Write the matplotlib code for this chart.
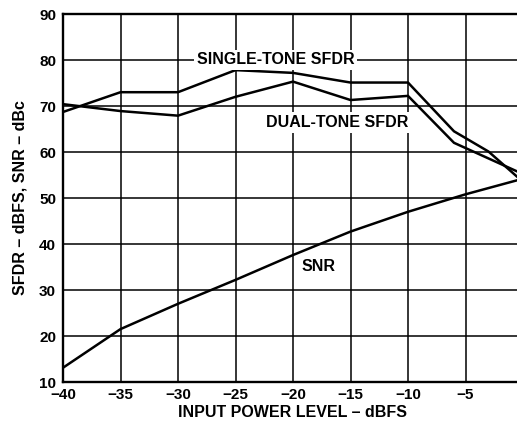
import matplotlib
matplotlib.use("Agg")
import matplotlib.pyplot as plt

# values
single_x = [-40, -35, -30, -25, -20, -15, -10, -6, -3, 0]
single_y = [68.7, 73.0, 73.0, 77.8, 77.2, 75.1, 75.1, 64.5, 60.1, 53.5]

dual_x = [-40, -35, -30, -25, -20, -15, -10, -6, 0]
dual_y = [70.4, 68.9, 67.9, 72.0, 75.3, 71.3, 72.2, 62.0, 55.2]

snr_x = [-40, -35, -30, -25, -20, -15, -10, -5, 0]
snr_y = [13.1, 21.5, 27.0, 32.2, 37.6, 42.7, 47.0, 50.8, 54.2]

x_ticks = [-40, -35, -30, -25, -20, -15, -10, -5, 0]
y_ticks = [10, 20, 30, 40, 50, 60, 70, 80, 90]

plt.rcParams["font.family"] = ["Liberation Sans", "DejaVu Sans"]
plt.rcParams["font.weight"] = "bold"

fig = plt.figure(figsize=(5.17, 4.23), dpi=100)
# the right edge of the plot runs slightly past the picture, as in the source
ax = fig.add_axes([63 / 517, 1 - 382 / 423, 460 / 517, 368 / 423])

for xs, ys in [(single_x, single_y), (dual_x, dual_y), (snr_x, snr_y)]:
    ax.plot(xs, ys, color="black", lw=1.8, solid_joinstyle="miter", zorder=3)

ax.set_xlim(-40, 0)
ax.set_ylim(10, 90)
ax.set_xticks(x_ticks)
ax.set_yticks(y_ticks)
ax.set_xticklabels([str(t).replace("-", "\u2212") for t in x_ticks])
ax.grid(True, color="black", lw=1.1)
ax.tick_params(length=0, labelsize=11)
ax.tick_params(axis="x", pad=4.5)
ax.tick_params(axis="y", pad=5)
for s in ax.spines.values():
    s.set_linewidth(1.7)

box = dict(facecolor="white", edgecolor="none", pad=2)
ax.text(-21.5, 80, "SINGLE-TONE SFDR", ha="center", va="center",
        fontsize=11.5, fontweight="bold", bbox=box, zorder=4)
ax.text(-16.2, 66.4, "DUAL-TONE SFDR", ha="center", va="center",
        fontsize=11.5, fontweight="bold", bbox=box, zorder=4)
ax.text(-17.8, 35.1, "SNR", ha="center", va="center",
        fontsize=11.5, fontweight="bold", zorder=4)

ax.set_xlabel("INPUT POWER LEVEL \u2013 dBFS", fontsize=11.5, fontweight="bold", labelpad=2)
ax.set_ylabel("SFDR \u2013 dBFS, SNR \u2013 dBc", fontsize=11.5, fontweight="bold", labelpad=8)

fig.savefig("out.png", dpi=100)
